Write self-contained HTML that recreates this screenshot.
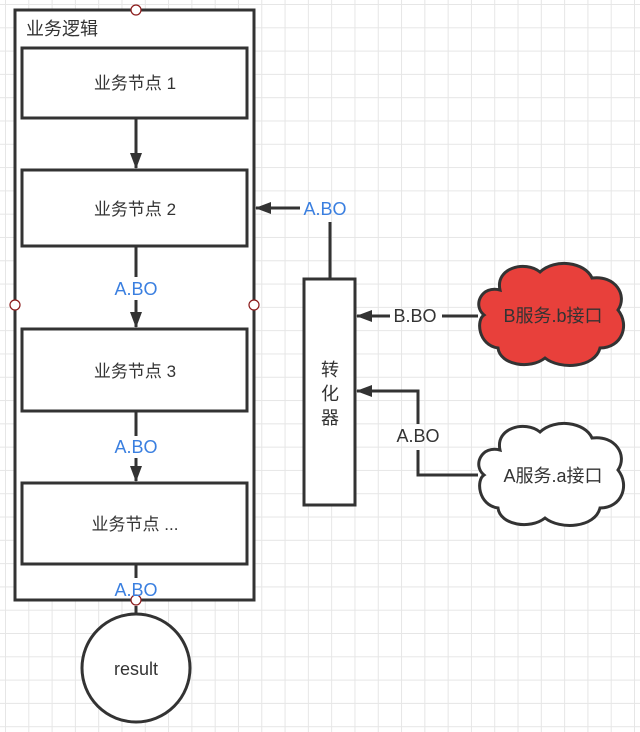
<!DOCTYPE html>
<html><head><meta charset="utf-8"><style>
html,body{margin:0;padding:0;background:#fff}
body{width:640px;height:732px;overflow:hidden;
background-image:linear-gradient(#e6e6e6 1px,transparent 1px),linear-gradient(90deg,#e6e6e6 1px,transparent 1px);
background-size:23.3px 23.3px;background-position:5px 4px}
svg{position:absolute;left:0;top:0}
text{font-family:"Liberation Sans","Noto Sans CJK SC",sans-serif;fill:#333}
.b{fill:#3a7fe0}
</style></head><body>
<svg width="640" height="732" viewBox="0 0 640 732">
<defs><marker id="a" viewBox="0 0 16 12" refX="15" refY="6" markerWidth="16" markerHeight="12" markerUnits="userSpaceOnUse" orient="auto"><path d="M0,0 L16,6 L0,12 z" fill="#333"/></marker></defs>
<g stroke="#333" stroke-width="3" fill="#fff">
<rect x="15" y="10" width="239" height="590"/>
<rect x="22" y="48" width="225" height="70"/>
<rect x="22" y="170" width="225" height="76"/>
<rect x="22" y="329" width="225" height="82"/>
<rect x="22" y="483" width="225" height="81"/>
<rect x="304" y="279" width="51" height="226"/>
<circle cx="136" cy="668" r="54"/>
</g>
<g stroke="#333" stroke-width="3" fill="none">
<line x1="136" y1="118" x2="136" y2="168" marker-end="url(#a)"/>
<line x1="136" y1="246" x2="136" y2="277"/>
<line x1="136" y1="300" x2="136" y2="327" marker-end="url(#a)"/>
<line x1="136" y1="411" x2="136" y2="436"/>
<line x1="136" y1="458" x2="136" y2="481" marker-end="url(#a)"/>
<line x1="136" y1="564" x2="136" y2="578"/>
<line x1="136" y1="606" x2="136" y2="614"/>
<line x1="330" y1="279" x2="330" y2="222"/>
<line x1="300" y1="208" x2="256" y2="208" marker-end="url(#a)"/>
<line x1="478" y1="316" x2="442" y2="316"/>
<line x1="390" y1="316" x2="357" y2="316" marker-end="url(#a)"/>
<polyline points="478,475 418,475 418,450"/>
<polyline points="418,424 418,391 357,391" marker-end="url(#a)"/>
</g>
<path d="M500,290 C495,268 525,260 540,272 C555,258 585,262 592,278 C615,275 628,295 618,310 C630,325 622,348 600,348 C595,368 560,370 545,358 C530,370 500,365 498,348 C478,345 476,320 484,315 C472,305 482,285 500,290 Z" fill="#e8403b" stroke="#333" stroke-width="3"/>
<path d="M500,450 C495,428 525,420 540,432 C555,418 585,422 592,438 C615,435 628,455 618,470 C630,485 622,508 600,508 C595,528 560,530 545,518 C530,530 500,525 498,508 C478,505 476,480 484,475 C472,465 482,445 500,450 Z" fill="#fff" stroke="#333" stroke-width="3"/>
<g fill="#fff" stroke="#8b1a1a" stroke-width="1.2">
<circle cx="136" cy="10" r="5"/><circle cx="15" cy="305" r="5"/><circle cx="254" cy="305" r="5"/><circle cx="136" cy="600" r="5"/>
</g>
<text x="26" y="35" font-size="18">业务逻辑</text>
<g font-size="17" text-anchor="middle">
<text x="135" y="89">业务节点 1</text>
<text x="135" y="215">业务节点 2</text>
<text x="135" y="377">业务节点 3</text>
<text x="135" y="530">业务节点 ...</text>
<text x="136" y="675" font-size="18">result</text>
<text x="330" y="376" font-size="18">转</text><text x="330" y="400" font-size="18">化</text><text x="330" y="424" font-size="18">器</text>
<text x="553" y="322" font-size="18">B服务.b接口</text>
<text x="553" y="482" font-size="18">A服务.a接口</text>
<text x="415" y="322" font-size="18">B.BO</text>
<text x="418" y="442" font-size="18">A.BO</text>
<text class="b" x="325" y="215" font-size="18">A.BO</text>
<text class="b" x="136" y="295" font-size="18">A.BO</text>
<text class="b" x="136" y="453" font-size="18">A.BO</text>
<text class="b" x="136" y="596" font-size="18">A.BO</text>
</g>
</svg>
</body></html>
